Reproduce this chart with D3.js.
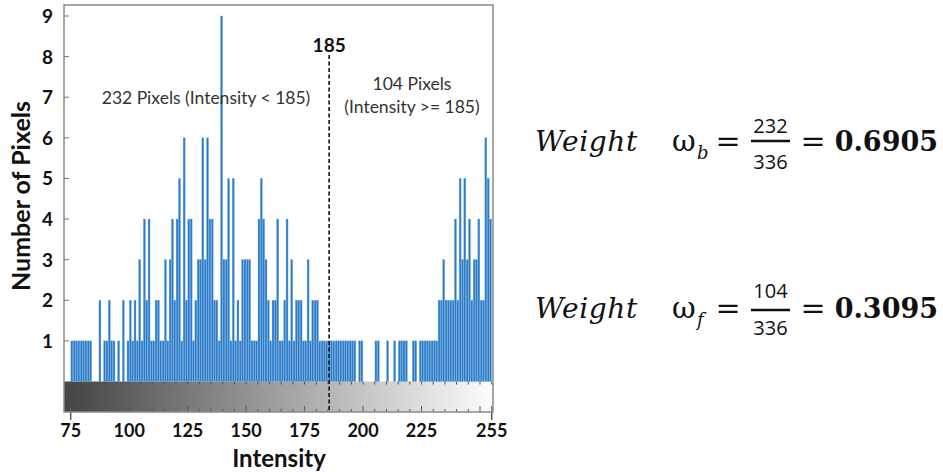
<!DOCTYPE html>
<html lang="en">
<head>
<meta charset="UTF-8">
<script src="https://d3js.org/d3.v7.min.js"></script>
<title>intensity histogram</title>
<style>
  body { margin: 0; background: #fff; }
</style>
</head>
<body>
<script>
// histogram counts, one per intensity level starting at binStart
var binStart = 75;
var counts = [
  1,1,1,1,1,1,1,1,1,0,   // 75-84
  0,0,2,0,1,1,2,1,1,0,   // 85-94
  1,0,2,0,1,2,1,2,1,3,   // 95-104
  1,4,2,4,1,1,2,2,1,1,   // 105-114
  3,1,3,4,2,4,5,1,6,2,   // 115-124
  4,4,1,2,3,3,6,3,6,4,   // 125-134
  4,2,2,1,9,3,3,5,1,5,   // 135-144
  1,2,1,3,3,3,3,1,1,1,   // 145-154
  4,5,4,3,2,1,2,2,4,1,   // 155-164
  1,2,4,1,3,1,2,2,2,1,   // 165-174
  1,3,1,2,2,2,1,1,1,1,   // 175-184
  1,1,1,1,1,1,1,1,1,1,   // 185-194
  1,1,0,1,1,0,0,0,0,0,   // 195-204
  1,1,0,0,0,1,0,0,1,0,   // 205-214
  1,1,1,1,0,0,1,1,0,1,   // 215-224
  1,1,1,1,1,1,1,2,2,3,   // 225-234
  2,2,2,2,4,2,5,3,5,3,   // 235-244
  4,2,3,3,4,2,2,6,5,4    // 245-254
];
var xTicks = [75, 100, 125, 150, 175, 200, 225, 255];
var yTicks = [1, 2, 3, 4, 5, 6, 7, 8, 9];
var threshold = 185;
var leftNote = "232 Pixels (Intensity < 185)";
var rightNote = ["104 Pixels", "(Intensity >= 185)"];
var weights = [
  { sub: "b", num: "232", den: "336", val: "0.6905" },
  { sub: "f", num: "104", den: "336", val: "0.3095" }
];

var width = 943, height = 472;
var svg = d3.select("body").append("svg").attr("width", width).attr("height", height);

var frame = { left: 64, right: 493, top: 5, bottom: 412 };
var barBase = 381.5;

var x = d3.scaleLinear().domain([75, 255]).range([70.7, 491.7]);
var y = d3.scaleLinear().domain([0, 9]).range([barBase, 16]);
var gray = d3.scaleLinear().domain([75, 255]).range(["rgb(70,70,70)", "rgb(252,252,252)"]);

// gradient strip
var grad = svg.append("defs").append("linearGradient")
  .attr("id", "grey").attr("gradientUnits", "userSpaceOnUse")
  .attr("x1", x(75)).attr("x2", x(255)).attr("y1", 0).attr("y2", 0);
[75, 120, 165, 210, 255].forEach(function(v) {
  grad.append("stop").attr("offset", (v - 75) / 180).attr("stop-color", gray(v));
});
svg.append("rect")
  .attr("x", frame.left).attr("y", barBase)
  .attr("width", frame.right - frame.left).attr("height", frame.bottom - barBase)
  .attr("fill", "url(#grey)");

// bars
var slot = x(76) - x(75);
svg.append("g").selectAll("rect")
  .data(counts.map(function(c, i) { return { v: binStart + i, c: c }; }).filter(function(d) { return d.c > 0; }))
  .enter().append("rect")
  .attr("x", function(d) { return x(d.v) + 0.2; })
  .attr("y", function(d) { return y(d.c); })
  .attr("width", slot - 0.4)
  .attr("height", function(d) { return barBase - y(d.c); })
  .attr("fill", "#2b7bc8")
  .attr("stroke", "#6aa5dc")
  .attr("stroke-width", 0.4);

// minor/major ticks on the strip
var minor = d3.range(75, 256, 5);
var tg = svg.append("g").attr("stroke", "#555").attr("stroke-width", 1);
minor.forEach(function(v) {
  var major = (v % 25 === 0) || v === 255;
  tg.append("line").attr("x1", x(v)).attr("x2", x(v))
    .attr("y1", barBase).attr("y2", barBase + 3);
  tg.append("line").attr("x1", x(v)).attr("x2", x(v))
    .attr("y1", frame.bottom).attr("y2", frame.bottom - (major ? 6 : 3));
});
[75, 255].forEach(function(v) {
  tg.append("line").attr("x1", x(v)).attr("x2", x(v))
    .attr("y1", frame.bottom).attr("y2", frame.bottom + 8).attr("stroke-width", 1.5);
});

// frame
svg.append("rect")
  .attr("x", frame.left).attr("y", frame.top)
  .attr("width", frame.right - frame.left).attr("height", frame.bottom - frame.top)
  .attr("fill", "none").attr("stroke", "#8a8a8a").attr("stroke-width", 1.5);

// y ticks
svg.append("g").selectAll("line").data(yTicks).enter().append("line")
  .attr("x1", frame.left).attr("x2", frame.left + 5)
  .attr("y1", function(d) { return y(d); }).attr("y2", function(d) { return y(d); })
  .attr("stroke", "#777").attr("stroke-width", 1);
svg.append("g").selectAll("text").data(yTicks).enter().append("text")
  .attr("x", 53).attr("y", function(d) { return y(d) + 7; })
  .attr("text-anchor", "end")
  .style("font", "bold 19px Lato").style("fill", "#111")
  .text(function(d) { return d; });

// x tick labels
svg.append("g").selectAll("text").data(xTicks).enter().append("text")
  .attr("x", function(d) { return x(d); }).attr("y", 437)
  .attr("text-anchor", "middle")
  .style("font", "bold 18px Lato").style("fill", "#111")
  .text(function(d) { return d; });

// axis titles
svg.append("text")
  .attr("transform", "translate(30,196) rotate(-90)")
  .attr("text-anchor", "middle")
  .style("font", "bold 25px Lato").style("fill", "#111")
  .text("Number of Pixels");
svg.append("text")
  .attr("x", 279).attr("y", 467).attr("text-anchor", "middle")
  .style("font", "bold 24px Lato").style("fill", "#111")
  .text("Intensity");

// threshold
svg.append("line")
  .attr("x1", x(threshold) + slot / 2).attr("x2", x(threshold) + slot / 2)
  .attr("y1", 55).attr("y2", frame.bottom)
  .attr("stroke", "#111").attr("stroke-width", 1.6).attr("stroke-dasharray", "4,2.5");
svg.append("text")
  .attr("x", x(threshold) + slot / 2).attr("y", 52).attr("text-anchor", "middle")
  .style("font", "bold 19px Lato").style("fill", "#111")
  .text(threshold);

// notes
svg.append("text")
  .attr("x", 206).attr("y", 104).attr("text-anchor", "middle")
  .style("font", "17.5px Lato").style("fill", "#333")
  .text(leftNote);
svg.selectAll(".rnote").data(rightNote).enter().append("text")
  .attr("x", 412).attr("y", function(d, i) { return 90 + i * 23; })
  .attr("text-anchor", "middle")
  .style("font", "17.5px Lato").style("fill", "#333")
  .text(function(d) { return d; });

// weight equations
var eqY = [151, 318];
var fracOff = [[-18, -10, 18], [-20, -8, 17]];
weights.forEach(function(w, i) {
  var g = svg.append("g");
  var by = eqY[i];
  g.append("text").attr("x", 535).attr("y", by)
    .style("font", "italic 28px 'DejaVu Serif'").style("letter-spacing", "0.6px")
    .style("fill", "#111").text("Weight");
  g.append("text").attr("x", 672).attr("y", by)
    .style("font", "29px 'DejaVu Serif'").style("fill", "#111").text("\u03c9");
  g.append("text").attr("x", 697).attr("y", by + 8)
    .style("font", "italic 18px 'DejaVu Serif'").style("fill", "#111").text(w.sub);
  g.append("text").attr("x", 728).attr("y", by).attr("text-anchor", "middle")
    .style("font", "30px 'DejaVu Serif'").style("fill", "#111").text("=");
  var fx = 770.5, off = fracOff[i];
  g.append("text").attr("x", fx).attr("y", by + off[0]).attr("text-anchor", "middle")
    .style("font", "20px 'Open Sans'").style("fill", "#111").text(w.num);
  g.append("line").attr("x1", fx - 19.5).attr("x2", fx + 19.5)
    .attr("y1", by + off[1]).attr("y2", by + off[1])
    .attr("stroke", "#111").attr("stroke-width", 2.5);
  g.append("text").attr("x", fx).attr("y", by + off[2]).attr("text-anchor", "middle")
    .style("font", "20px 'Open Sans'").style("fill", "#111").text(w.den);
  g.append("text").attr("x", 813).attr("y", by).attr("text-anchor", "middle")
    .style("font", "30px 'DejaVu Serif'").style("fill", "#111").text("=");
  g.append("text").attr("x", 938).attr("y", by).attr("text-anchor", "end")
    .style("font", "bold 27px 'DejaVu Serif'").style("fill", "#111").text(w.val);
});
</script>
</body>
</html>
